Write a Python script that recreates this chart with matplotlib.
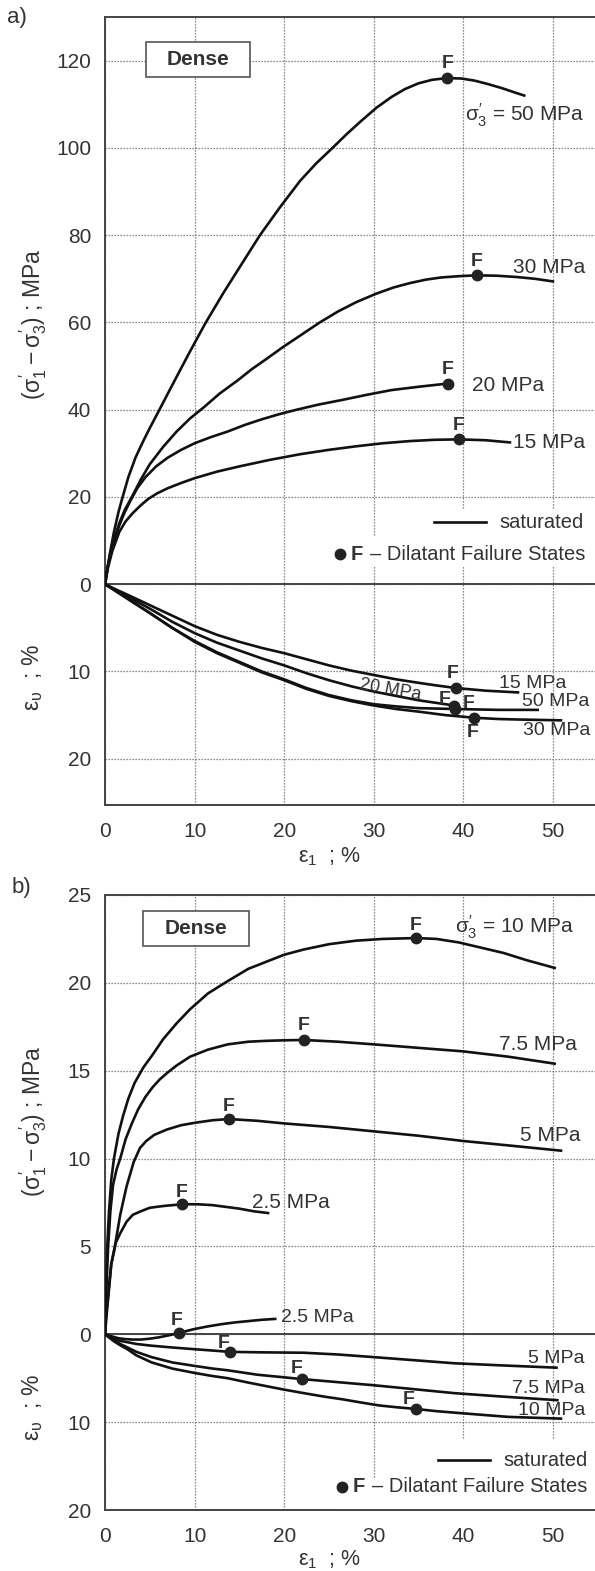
import matplotlib

matplotlib.use("Agg")
from matplotlib import pyplot as plt
from matplotlib.patches import Rectangle

plt.rcParams["font.family"] = ["Liberation Sans", "DejaVu Sans"]
plt.rcParams["mathtext.fontset"] = "custom"
plt.rcParams["mathtext.rm"] = "Liberation Sans"
plt.rcParams["mathtext.it"] = "Liberation Sans"
plt.rcParams["mathtext.bf"] = "Liberation Sans:bold"

# ---- data: panel a (sigma3' = 50 / 30 / 20 / 15 MPa) ----
a_pressures = ["50", "30", "20", "15"]

a_dev_eps_50 = [0, 0.5, 1.0, 1.5, 1.9, 2.6, 3.4, 4.2, 5.0, 5.9, 7.6, 9.4, 11.2, 13.2, 15.2, 17.3,
                19.5, 21.8, 23.6, 25.4, 27.0, 28.5, 30.3, 32.0, 33.5, 35.0, 36.5, 38.2, 39.8,
                41.3, 42.8, 44.3, 45.6, 46.8]
a_dev_q_50 = [0, 6.5, 12, 16.5, 19.5, 24.5, 29, 32.5, 35.8, 39.3, 46, 53, 59.8, 66.7, 73.2, 80,
              86.3, 92.5, 96.5, 100, 103.2, 106, 109.2, 111.7, 113.5, 114.8, 115.6, 116, 115.9,
              115.4, 114.6, 113.7, 112.8, 112]
a_dev_eps_30 = [0, 0.3, 0.8, 1.6, 2.2, 3.0, 4.0, 5.0, 6.5, 8.0, 9.5, 11.0, 12.8, 14.8, 16.4, 18.0,
                19.9, 21.8, 23.9, 26.0, 28.1, 30.3, 32.2, 34.0, 35.8, 37.5, 39.5, 41.5, 43.8,
                46.0, 48.0, 50.0]
a_dev_q_30 = [0, 4, 9, 14, 17, 20, 24, 27.5, 31.5, 35, 38, 40.5, 43.7, 46.7, 49.3, 51.6,
              54.4, 57, 59.9, 62.5, 64.7, 66.6, 68, 69, 69.8, 70.3, 70.6, 70.8, 70.7,
              70.4, 70, 69.4]
a_dev_eps_20 = [0, 0.3, 0.8, 1.6, 2.2, 2.8, 3.6, 4.5, 5.7, 7.0, 8.5, 10.0, 11.8, 13.7, 15.6,
                17.5, 19.5, 21.4, 23.9, 26.4, 29.2, 32.0, 35.2, 38.3]
a_dev_q_20 = [0, 4, 8.5, 13.5, 16.5, 19, 22, 24.5, 27, 29, 30.8, 32.3, 33.7, 35, 36.5,
              37.8, 39, 40, 41.2, 42.2, 43.4, 44.5, 45.3, 46]
a_dev_eps_15 = [0, 0.3, 0.8, 1.6, 2.3, 3.1, 4.0, 4.8, 5.8, 7.0, 8.5, 10.0, 12.5, 15.0, 18.4,
                21.8, 25.0, 28.0, 31.0, 34.0, 36.8, 39.5, 42.5, 45.2]
a_dev_q_15 = [0, 3.5, 7.5, 12, 14.4, 16.3, 18.1, 19.5, 20.8, 22, 23.2, 24.3, 25.8, 27, 28.5,
              29.8, 30.8, 31.6, 32.3, 32.8, 33.1, 33.2, 33.0, 32.5]

a_vol_eps_50 = [0, 1, 2.5, 5, 7.5, 10, 12.5, 15, 17.5, 20, 22.5, 25, 27.5, 30, 32.5, 35, 37,
                39.1, 41.5, 44, 46, 48.3]
a_vol_ev_50 = [0, 0.65, 1.65, 3.3, 5.0, 6.5, 7.8, 8.9, 10.0, 10.9, 11.9, 12.7, 13.3, 13.75,
               14.0, 14.2, 14.25, 14.3, 14.35, 14.4, 14.4, 14.4]
a_vol_eps_30 = [0, 1, 2.5, 5, 7.5, 10, 12.5, 15, 17.5, 20, 22.5, 25, 27.5, 30, 32.5, 35, 38,
                41.2, 44, 46, 48.5, 50.9]
a_vol_ev_30 = [0, 0.65, 1.65, 3.3, 5.0, 6.6, 7.9, 9.0, 10.1, 11.0, 12.0, 12.8, 13.4, 13.9,
               14.3, 14.6, 15.0, 15.3, 15.45, 15.5, 15.55, 15.6]
a_vol_eps_20 = [0, 1, 2.5, 5, 7.5, 10, 12.5, 15, 17.5, 20, 22.5, 25, 27.5, 30, 32.5, 35, 37, 39]
a_vol_ev_20 = [0, 0.55, 1.4, 2.8, 4.3, 5.6, 6.7, 7.6, 8.5, 9.3, 10.2, 11.0, 11.7, 12.3, 12.8,
               13.3, 13.6, 13.9]
a_vol_eps_15 = [0, 1, 2.5, 5, 7.5, 10, 12.5, 15, 17.5, 20, 22.5, 25, 27.5, 30, 32.5, 35, 37,
                39.2, 42.5, 46.1]
a_vol_ev_15 = [0, 0.5, 1.2, 2.4, 3.6, 4.8, 5.8, 6.6, 7.3, 7.9, 8.6, 9.3, 9.9, 10.4, 10.9,
               11.3, 11.6, 11.9, 12.2, 12.4]

a_fail_eps = [38.2, 41.5, 38.3, 39.5]
a_fail_q = [116, 70.8, 46, 33.2]
a_fail_vol_eps = [39.1, 41.2, 39.0, 39.2]
a_fail_vol_ev = [14.3, 15.3, 13.9, 11.9]

# ---- data: panel b (sigma3' = 10 / 7.5 / 5 / 2.5 MPa) ----
b_pressures = ["10", "7.5", "5", "2.5"]

b_dev_eps_10 = [0, 0.1, 0.25, 0.45, 0.7, 1.0, 1.5, 2.0, 2.6, 3.3, 4.3, 5.3, 6.5, 8.0, 9.5,
                11.5, 13.7, 16, 18, 20, 22.2, 25, 28, 31, 34.7, 37, 39.5, 42, 44.5, 47, 50.2]
b_dev_q_10 = [0, 2.5, 5, 7, 8.8, 10, 11.4, 12.4, 13.4, 14.3, 15.2, 15.9, 16.8, 17.7, 18.5,
              19.4, 20.1, 20.8, 21.2, 21.6, 21.9, 22.2, 22.4, 22.5, 22.55, 22.5, 22.3, 22.0,
              21.7, 21.3, 20.85]
b_dev_eps_75 = [0, 0.15, 0.35, 0.6, 0.9, 1.3, 1.7, 2.3, 3.0, 3.7, 4.5, 5.3, 6.1, 7.0, 8.0,
                9.5, 11.5, 13.7, 16, 18, 20, 22.2, 26, 30, 35, 40, 45, 50.2]
b_dev_q_75 = [0, 2.5, 5, 7, 8.5, 9.4, 10, 11.1, 12, 12.8, 13.5, 14.05, 14.5, 14.9, 15.3,
              15.8, 16.2, 16.5, 16.65, 16.7, 16.73, 16.75, 16.65, 16.5, 16.3, 16.1, 15.8, 15.4]
b_dev_eps_5 = [0, 0.2, 0.4, 0.7, 1.1, 1.7, 2.4, 3.2, 3.9, 4.6, 5.5, 6.9, 8.5, 10.2, 12,
               13.8, 17, 20, 25, 30, 35, 40, 45, 50.9]
b_dev_q_5 = [0, 1.2, 2.3, 4.0, 5.0, 6.8, 8.4, 9.8, 10.6, 11.0, 11.35, 11.65, 11.9, 12.05,
             12.18, 12.25, 12.15, 12.0, 11.8, 11.55, 11.3, 11.0, 10.75, 10.45]
b_dev_eps_25 = [0, 0.1, 0.3, 0.5, 0.7, 1.0, 1.2, 1.7, 2.4, 3.1, 4.0, 5.0, 6.5, 8.6, 10.3,
                12, 13.5, 15, 16.6, 18.2]
b_dev_q_25 = [0, 1, 2, 3, 4, 4.7, 5.2, 5.75, 6.4, 6.8, 7.0, 7.2, 7.3, 7.4, 7.4, 7.35,
              7.25, 7.15, 7.0, 6.9]

b_vol_eps_10 = [0, 0.5, 1, 1.7, 2.5, 3.5, 5.2, 7.5, 10, 12, 13.7, 16, 18, 20, 22.2, 24.5,
                26.5, 28.5, 30.6, 32.5, 34.7, 37, 40, 42.5, 45, 48, 50.9]
b_vol_ev_10 = [0, 0.4, 0.8, 1.25, 1.7, 2.4, 3.2, 3.9, 4.4, 4.75, 5.0, 5.5, 5.9, 6.3, 6.7,
               7.1, 7.4, 7.75, 8.1, 8.3, 8.5, 8.75, 9.0, 9.2, 9.4, 9.5, 9.6]
b_vol_eps_75 = [0, 0.5, 1, 1.7, 2.5, 3.5, 5.2, 7.5, 10, 12, 13.7, 17, 20, 22, 26, 30, 34.5,
                39, 44.5, 50.5]
b_vol_ev_75 = [0, 0.35, 0.7, 1.1, 1.5, 2.0, 2.6, 3.2, 3.6, 3.9, 4.1, 4.6, 4.9, 5.1, 5.45,
               5.8, 6.25, 6.7, 7.1, 7.5]
b_vol_eps_5 = [0, 0.5, 1, 1.7, 2.5, 3.5, 5.2, 7.5, 10, 12, 13.9, 17, 20, 22.2, 26, 30, 34.5,
               39, 44.5, 50.4]
b_vol_ev_5 = [0, 0.25, 0.5, 0.75, 0.9, 1.1, 1.3, 1.5, 1.7, 1.85, 2.0, 2.05, 2.08, 2.1, 2.3,
              2.6, 2.95, 3.3, 3.55, 3.8]
b_vol_eps_25 = [0, 0.8, 1.5, 2.3, 3.1, 4, 5, 6, 7.2, 8.3, 9.2, 10, 11.5, 13, 14.5, 16, 17.5,
                19]
b_vol_ev_25 = [0, 0.25, 0.45, 0.55, 0.6, 0.6, 0.5, 0.35, 0.1, -0.15, -0.4, -0.6, -0.9,
               -1.15, -1.35, -1.5, -1.65, -1.75]

b_fail_eps = [34.7, 22.2, 13.8, 8.6]
b_fail_q = [22.55, 16.75, 12.25, 7.4]
b_fail_vol_eps = [34.7, 22.0, 13.9, 8.3]
b_fail_vol_ev = [8.5, 5.1, 2.0, -0.15]

x_ticks = [0, 10, 20, 30, 40, 50]
a_q_ticks = [0, 20, 40, 60, 80, 100, 120]
b_q_ticks = [0, 5, 10, 15, 20, 25]
vol_ticks = [10, 20]

# ---- style ----
TEXT = "#333333"
INK = "#111111"
SPINE = "#444444"
GRID = "#666666"
W, H = 595, 1571
SIG3 = r"$\sigma^{\prime}_{3}$"
DEV_LABEL = r"$(\sigma^{\prime}_{1} - \sigma^{\prime}_{3})$ ; MPa"


def fx(px):
    return px / W


def fy(py):
    return 1 - py / H


fig = plt.figure(figsize=(W / 100, H / 100), dpi=100)


def make_axes(top_px, bottom_px, ylim, q_ticks, vol_scale):
    ax = fig.add_axes([fx(105), fy(bottom_px), (W - 105) / W, (bottom_px - top_px) / H])
    ax.set_xlim(0, 54.7)
    ax.set_ylim(*ylim)
    ax.set_xticks(x_ticks)
    yt = [-vol_scale * v for v in reversed(vol_ticks)] + q_ticks
    yl = [str(v) for v in reversed(vol_ticks)] + [str(q) for q in q_ticks]
    ax.set_yticks(yt)
    ax.set_yticklabels(yl)
    ax.tick_params(axis="both", length=0, labelsize=15, labelcolor=TEXT)
    ax.tick_params(axis="y", pad=10)
    ax.tick_params(axis="x", pad=12)
    ax.grid(True, linestyle=(0, (1, 1.4)), linewidth=0.9, color=GRID)
    ax.set_axisbelow(True)
    ax.spines["right"].set_visible(False)
    for side in ("left", "top", "bottom"):
        ax.spines[side].set_color(SPINE)
        ax.spines[side].set_linewidth(1.4)
    ax.axhline(0, color=SPINE, linewidth=1.4, zorder=2.5)
    return ax


def curve(ax, xs, ys, scale=1.0):
    ax.plot(xs, [scale * y for y in ys], color=INK, linewidth=1.9,
            solid_joinstyle="round", zorder=3)


def fail_points(ax, xs, ys, offsets, scale=1.0):
    for x, y, (dx, dy) in zip(xs, ys, offsets):
        ax.plot(x, scale * y, "o", color="#222222", markersize=7.5, zorder=5)
        ax.annotate("F", (x, scale * y), xytext=(dx, dy), textcoords="offset pixels",
                    ha="center", va="center", fontsize=14, fontweight="bold",
                    color=TEXT, zorder=4)


def curve_label(ax, text, x, y, offset, size=15, rotation=0, ha="left"):
    ax.annotate(text, (x, y), xytext=offset, textcoords="offset pixels",
                ha=ha, va="center", fontsize=size, color=TEXT,
                rotation=rotation, rotation_mode="anchor", zorder=4)


def dense_box(ax, x0, x1, y0, y1):
    ax.add_patch(Rectangle((x0, y0), x1 - x0, y1 - y0, transform=ax.transAxes,
                           facecolor="white", edgecolor="#555555", linewidth=1.2,
                           zorder=6))
    ax.text((x0 + x1) / 2, (y0 + y1) / 2, "Dense", transform=ax.transAxes,
            ha="center", va="center", fontsize=15, fontweight="bold",
            color=TEXT, zorder=7)


def legend(ax, row1_y, row2_y, row1_bg, row2_bg, x_line, x_dot):
    # white patches behind the legend text (hide grid)
    ax.add_patch(Rectangle((0.66, row1_bg[0]), 0.34, row1_bg[1] - row1_bg[0],
                           transform=ax.transAxes, facecolor="white",
                           edgecolor="none", zorder=1.5))
    ax.add_patch(Rectangle((0.47, row2_bg[0]), 0.53, row2_bg[1] - row2_bg[0],
                           transform=ax.transAxes, facecolor="white",
                           edgecolor="none", zorder=1.5))
    ax.plot(x_line, [row1_y, row1_y], transform=ax.transAxes, color=INK,
            linewidth=1.9, zorder=3)
    ax.text(x_line[1] + 0.027, row1_y, "saturated", transform=ax.transAxes,
            ha="left", va="center", fontsize=14.5, color=TEXT, zorder=4)
    ax.plot(x_dot, row2_y, "o", transform=ax.transAxes, color="#222222",
            markersize=7.5, zorder=5)
    ax.text(x_dot + 0.022, row2_y, "F", transform=ax.transAxes, ha="left",
            va="center", fontsize=14.5, fontweight="bold", color=TEXT, zorder=4)
    ax.text(x_dot + 0.061, row2_y, "– Dilatant Failure States",
            transform=ax.transAxes, ha="left", va="center", fontsize=14.5,
            color=TEXT, zorder=4)


# ================= panel a =================
va = 2.0  # 1 % volumetric strain drawn as 2 MPa
ax_a = make_axes(17, 805, (-50.6, 130), a_q_ticks, va)

a_dev = [(a_dev_eps_50, a_dev_q_50), (a_dev_eps_30, a_dev_q_30),
         (a_dev_eps_20, a_dev_q_20), (a_dev_eps_15, a_dev_q_15)]
a_vol = [(a_vol_eps_50, a_vol_ev_50), (a_vol_eps_30, a_vol_ev_30),
         (a_vol_eps_20, a_vol_ev_20), (a_vol_eps_15, a_vol_ev_15)]
for xs, ys in a_dev:
    curve(ax_a, xs, ys)
for xs, ys in a_vol:
    curve(ax_a, xs, ys, -va)

fail_points(ax_a, a_fail_eps, a_fail_q, [(0, 15), (0, 14), (0, 14), (0, 14)])
fail_points(ax_a, a_fail_vol_eps, a_fail_vol_ev,
            [(13, 6), (-1, -15), (-10, 6), (-3, 15)], -va)

a_dev_offsets = [(-59, -20), (-40, 14), (24, -2), (3, 0)]
for i, (p, (xs, ys)) in enumerate(zip(a_pressures, a_dev)):
    text = SIG3 + " = " + p + " MPa" if i == 0 else p + " MPa"
    curve_label(ax_a, text, xs[-1], ys[-1], a_dev_offsets[i])

a_vol_offsets = [(-16, 8), (-38, -10), None, (-19, 9)]
for p, (xs, ys), off in zip(a_pressures, a_vol, a_vol_offsets):
    if off is None:
        curve_label(ax_a, p + " MPa", xs[-1], -va * ys[-1], (-64, 16), size=13,
                    rotation=-10, ha="center")
    else:
        curve_label(ax_a, p + " MPa", xs[-1], -va * ys[-1], off, size=14)

dense_box(ax_a, 0.084, 0.296, 0.924, 0.968)
legend(ax_a, 0.359, 0.3185, (0.302, 0.374), (0.302, 0.340),
       [0.671, 0.778], 0.480)

# ================= panel b =================
vb = 0.5  # 1 % volumetric strain drawn as 0.5 MPa
ax_b = make_axes(895, 1510, (-10, 25), b_q_ticks, vb)

b_dev = [(b_dev_eps_10, b_dev_q_10), (b_dev_eps_75, b_dev_q_75),
         (b_dev_eps_5, b_dev_q_5), (b_dev_eps_25, b_dev_q_25)]
b_vol = [(b_vol_eps_10, b_vol_ev_10), (b_vol_eps_75, b_vol_ev_75),
         (b_vol_eps_5, b_vol_ev_5), (b_vol_eps_25, b_vol_ev_25)]
for xs, ys in b_dev:
    curve(ax_b, xs, ys)
for xs, ys in b_vol:
    curve(ax_b, xs, ys, -vb)

fail_points(ax_b, b_fail_eps, b_fail_q, [(0, 13), (0, 14), (0, 13), (0, 12)])
fail_points(ax_b, b_fail_vol_eps, b_fail_vol_ev,
            [(-7, 9), (-5, 11), (-6, 8), (-3, 12)], -vb)

b_dev_offsets = [(-100, 41), (-56, 19), (-41, 15), (-16, 11)]
for i, (p, (xs, ys)) in enumerate(zip(b_pressures, b_dev)):
    text = SIG3 + " = " + p + " MPa" if i == 0 else p + " MPa"
    curve_label(ax_b, text, xs[-1], ys[-1], b_dev_offsets[i])

b_vol_offsets = [(-43, 8), (-45, 12), (-28, 9), (6, 1)]
for p, (xs, ys), off in zip(b_pressures, b_vol, b_vol_offsets):
    curve_label(ax_b, p + " MPa", xs[-1], -vb * ys[-1], off, size=14)

dense_box(ax_b, 0.078, 0.294, 0.917, 0.974)
legend(ax_b, 0.0813, 0.0374, (0.0, 0.114), (0.0, 0.052),
       [0.680, 0.786], 0.484)

# ================= figure texts =================
fig.text(fx(7), fy(17), "a)", fontsize=16, color=TEXT, ha="left", va="center")
fig.text(fx(12), fy(887), "b)", fontsize=16, color=TEXT, ha="left", va="center")

for y_px in (857, 1560):
    fig.text(fx(329), fy(y_px), "$ε_1$  ; %", fontsize=15.5, color=TEXT,
             ha="center", va="center")

for y_px in (324, 1121):
    fig.text(fx(33), fy(y_px), DEV_LABEL, fontsize=16.5, color=TEXT,
             rotation=90, ha="center", va="center")
for y_px in (678, 1408):
    fig.text(fx(33), fy(y_px), "$ε_υ$  ; %", fontsize=16.5, color=TEXT,
             rotation=90, ha="center", va="center")

fig.savefig("out.png", dpi=100)
